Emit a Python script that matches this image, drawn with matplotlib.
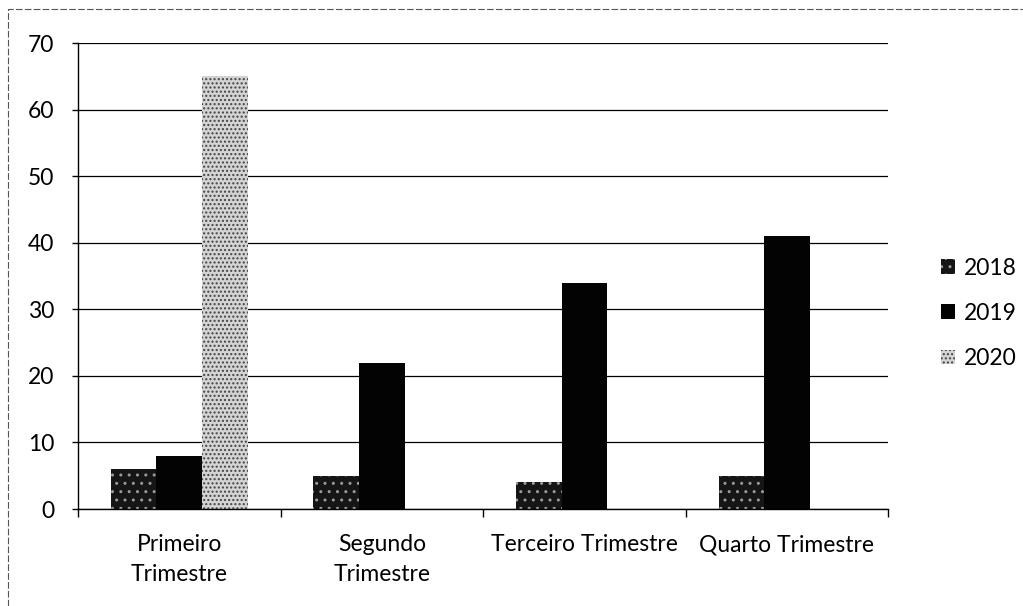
import matplotlib.pyplot as plt
from matplotlib.lines import Line2D
import numpy as np

plt.rcParams['font.family'] = ['Lato', 'DejaVu Sans']

# dados
categorias = ['Primeiro\nTrimestre', 'Segundo\nTrimestre', 'Terceiro Trimestre', 'Quarto Trimestre']
anos = ['2018', '2019', '2020']
v2018 = [6, 5, 4, 5]
v2019 = [8, 22, 34, 41]
v2020 = [65, 0, 0, 0]

fs = 16.5

fig = plt.figure(figsize=(10.23, 6.06), dpi=100)
ax = fig.add_axes([0.0762, 0.160, 0.792, 0.769])

x = np.arange(len(categorias))
w = 0.225

ax.bar(x - w, v2018, w, color='#151515', edgecolor='#9a9a9a', hatch='..', linewidth=0, label=anos[0])
ax.bar(x, v2019, w, color='#030303', linewidth=0, label=anos[1])
ax.bar(x + w, v2020, w, color='#d4d4d4', edgecolor='#444444', hatch='....', linewidth=0, label=anos[2])

ax.set_xlim(-0.5, len(categorias) - 0.5)
ax.set_ylim(0, 70)
ax.set_yticks(range(0, 71, 10))
ax.yaxis.grid(True, color='black', linewidth=0.9)
ax.set_axisbelow(True)

ax.set_xticks(x)
ax.set_xticklabels(categorias, fontsize=fs, linespacing=1.55)
ax.tick_params(axis='x', length=0, pad=18)
ax.set_xticks(np.arange(-0.5, len(categorias)), minor=True)
ax.tick_params(axis='x', which='minor', length=6, width=1, direction='out')
ax.tick_params(axis='y', labelsize=fs, length=4, width=1, direction='out', pad=13)

for s in ['top', 'right']:
    ax.spines[s].set_visible(False)
ax.spines['left'].set_linewidth(1)
ax.spines['bottom'].set_linewidth(1)

ax.legend(loc='center left', bbox_to_anchor=(1.04, 0.42), frameon=False,
          fontsize=fs, handlelength=0.6, handleheight=0.6,
          handletextpad=0.4, labelspacing=1.05)

# moldura externa (so topo e esquerda visiveis)
fig.lines.append(Line2D([0.008, 0.008, 1.0], [0.0, 0.985, 0.985], transform=fig.transFigure,
                        color='#555555', linewidth=0.8, linestyle=(0, (6, 2))))

fig.savefig('out.png', dpi=100)
